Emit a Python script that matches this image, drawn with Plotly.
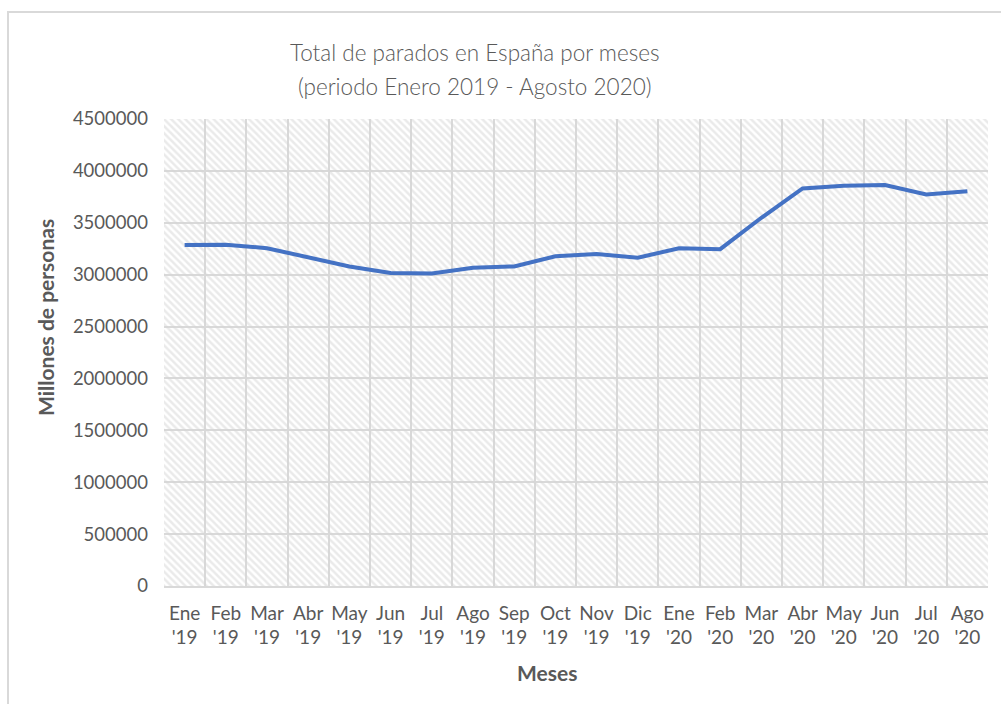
import plotly.graph_objects as go

# ---- data ----
months = ["Ene", "Feb", "Mar", "Abr", "May", "Jun", "Jul", "Ago", "Sep", "Oct", "Nov", "Dic",
          "Ene", "Feb", "Mar", "Abr", "May", "Jun", "Jul", "Ago"]
years = ["'19"] * 12 + ["'20"] * 8
parados = [3285761, 3289040, 3255084, 3163566, 3079491, 3015686, 3011433, 3065804,
           3079711, 3177659, 3198184, 3163605, 3253853, 3246047, 3548312, 3831203,
           3857776, 3862883, 3773034, 3802814]
y_max = 4500000
y_step = 500000

labels = [f"{m}<br>{y}" for m, y in zip(months, years)]
xs = list(range(len(labels)))

# ---- layout geometry (pixels) ----
W, H = 1001, 704
L, R, T, B = 164, 13, 119, 118
PW = W - L - R
PH = H - T - B


def px_x(p):
    return (p - L) / PW


def px_y(p):
    return (H - B - p) / PH


grey = "#595959"
grid = "#d9d9d9"
font = "Lato"

fig = go.Figure()

# hatched plot-area background
fig.add_trace(go.Scatter(
    x=[xs[0] - 0.5, xs[-1] + 0.5], y=[y_max, y_max],
    mode="none", fill="tozeroy", fillcolor="rgba(0,0,0,0)",
    fillpattern=dict(shape="\\", fgcolor="#d6d6d6", bgcolor="rgba(0,0,0,0)",
                     size=5, solidity=0.5),
    hoverinfo="skip", showlegend=False,
))

fig.add_trace(go.Scatter(
    x=xs, y=parados, mode="lines",
    line=dict(color="#4472C4", width=4),
    showlegend=False,
))

fig.update_layout(
    width=W, height=H,
    margin=dict(l=L, r=R, t=T, b=B),
    paper_bgcolor="white", plot_bgcolor="white",
    font=dict(family=font, color=grey, size=18),
    xaxis=dict(
        range=[xs[0] - 0.5, xs[-1] + 0.5],
        tickvals=xs, ticktext=labels,
        showgrid=False, zeroline=False,
        showline=True, linecolor=grid, linewidth=1.5,
        ticks="", ticklabelstandoff=9,
        tickfont=dict(size=19, color=grey, family=font),
        minor=dict(tickvals=[x - 0.5 for x in xs] + [xs[-1] + 0.5],
                   showgrid=True, gridcolor=grid, gridwidth=1.5, ticks=""),
        fixedrange=True,
    ),
    yaxis=dict(
        range=[0, y_max], dtick=y_step, tick0=0,
        tickformat="d",
        showgrid=True, gridcolor=grid, gridwidth=1.5,
        zeroline=False, showline=False,
        ticks="", ticklabelstandoff=15,
        tickfont=dict(size=18.5, color=grey, family=font),
        fixedrange=True,
    ),
    shapes=[dict(type="rect", xref="paper", yref="paper",
                 x0=px_x(8), x1=px_x(W + 20), y0=px_y(H + 20), y1=px_y(12),
                 line=dict(color=grid, width=2), fillcolor="rgba(0,0,0,0)",
                 layer="below")],
    annotations=[
        dict(text="Total de parados en España por meses", xref="paper", yref="paper",
             x=px_x(475), y=px_y(52), xanchor="center", yanchor="middle",
             showarrow=False, font=dict(size=22.5, color=grey, family=font, weight=300)),
        dict(text="(periodo Enero 2019 - Agosto 2020)", xref="paper", yref="paper",
             x=px_x(475), y=px_y(87), xanchor="center", yanchor="middle",
             showarrow=False, font=dict(size=22.5, color=grey, family=font, weight=300)),
        dict(text="<b>Meses</b>", xref="paper", yref="paper",
             x=px_x(547), y=px_y(672), xanchor="center", yanchor="middle",
             showarrow=False, font=dict(size=21, color=grey, family=font)),
        dict(text="<b>Millones de personas</b>", xref="paper", yref="paper",
             x=px_x(45), y=px_y(318), xanchor="center", yanchor="middle",
             textangle=-90, showarrow=False,
             font=dict(size=21, color=grey, family=font)),
    ],
)

fig.write_html("out.html")
